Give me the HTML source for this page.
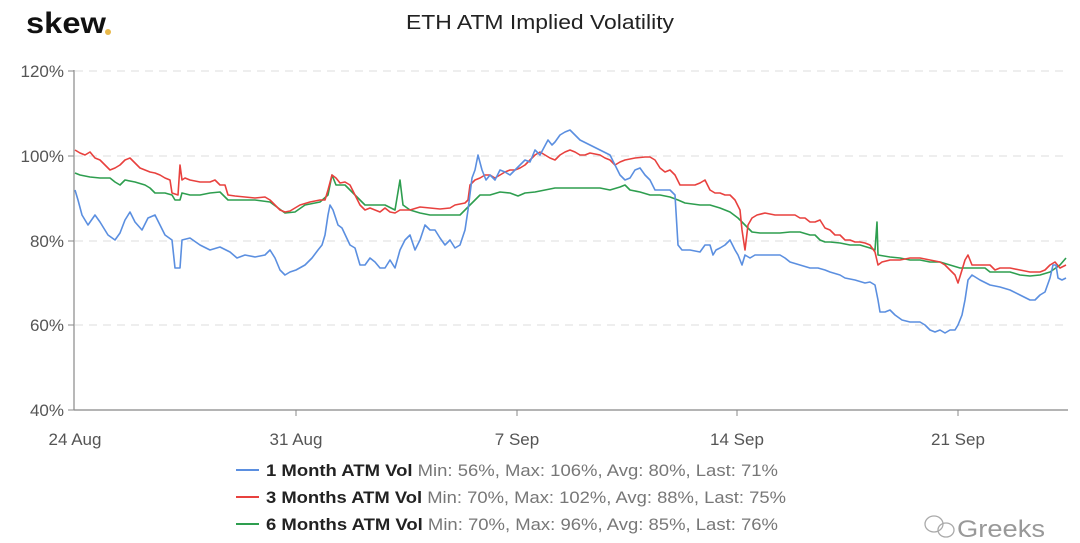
<!DOCTYPE html>
<html><head><meta charset="utf-8"><style>
body{margin:0;background:#fff;}
svg{display:block;font-family:"Liberation Sans",sans-serif;}
</style></head><body>
<svg width="1080" height="543" viewBox="0 0 1080 543">
<text x="26" y="33" font-size="30" font-weight="bold" fill="#111" textLength="80" lengthAdjust="spacingAndGlyphs">skew</text>
<circle cx="108" cy="32" r="3" fill="#e8b84a"/>
<text x="540" y="29" font-size="20" fill="#222" text-anchor="middle" textLength="268" lengthAdjust="spacingAndGlyphs">ETH ATM Implied Volatility</text>
<g stroke="#ddd" stroke-dasharray="8,6" stroke-width="1">
<line x1="75" y1="71" x2="1068" y2="71"/><line x1="75" y1="156" x2="1068" y2="156"/>
<line x1="75" y1="241" x2="1068" y2="241"/><line x1="75" y1="325" x2="1068" y2="325"/>
</g>
<line x1="74" y1="70" x2="74" y2="410" stroke="#888" stroke-width="1.2"/>
<line x1="74" y1="410" x2="1068" y2="410" stroke="#888" stroke-width="1.2"/>
<g stroke="#888"><line x1="68" y1="71" x2="74" y2="71"/><line x1="68" y1="156" x2="74" y2="156"/><line x1="68" y1="241" x2="74" y2="241"/><line x1="68" y1="325" x2="74" y2="325"/><line x1="68" y1="410" x2="74" y2="410"/>
<line x1="296" y1="410" x2="296" y2="416"/><line x1="517" y1="410" x2="517" y2="416"/><line x1="737" y1="410" x2="737" y2="416"/><line x1="958" y1="410" x2="958" y2="416"/></g>
<g font-size="17" fill="#555" text-anchor="end">
<text x="64" y="77">120%</text><text x="64" y="162">100%</text><text x="64" y="247">80%</text><text x="64" y="331">60%</text><text x="64" y="416">40%</text>
</g>
<g font-size="17" fill="#555" text-anchor="middle">
<text x="75" y="445">24 Aug</text><text x="296" y="445">31 Aug</text><text x="517" y="445">7 Sep</text><text x="737" y="445">14 Sep</text><text x="958" y="445">21 Sep</text>
</g>
<g fill="none" stroke-width="1.6" stroke-linejoin="round">
<polyline stroke="#2e9e4f" points="75,173 80,175 90,177 100,178 110,178 115,182 120,185 125,180 135,182 145,185 150,188 155,193 165,193 172,195 175,200 180,200 182,193 190,195 200,195 210,193 220,192 228,200 240,200 255,200 270,202 285,213 295,212 305,205 320,202 328,195 332,175 336,185 345,185 355,195 365,205 375,205 385,205 395,210 400,180 403,205 410,210 420,213 430,215 440,215 450,215 460,215 465,210 470,205 475,200 480,195 490,195 500,192 510,193 518,196 525,193 535,192 545,190 555,188 565,188 575,188 585,188 600,188 610,190 620,187 625,185 630,190 640,192 650,195 660,195 670,197 678,200 685,203 700,205 710,205 720,208 730,212 738,218 745,225 752,232 760,233 770,233 780,233 790,232 800,232 810,235 815,235 820,240 825,242 830,242 840,243 850,245 860,245 870,248 875,250 877,222 878,255 890,257 900,258 910,260 920,260 930,262 940,262 950,265 960,268 965,268 975,268 985,268 990,272 1000,272 1010,272 1020,275 1030,276 1040,275 1050,272 1060,265 1066,258"/>
<polyline stroke="#e8413e" points="75,150 80,153 85,155 90,152 95,158 100,160 105,165 110,170 115,168 120,165 125,160 130,158 135,163 140,168 145,170 150,172 155,173 160,175 165,178 170,180 172,193 178,195 180,165 182,180 185,178 190,180 200,182 210,182 215,180 220,185 225,185 228,195 235,196 245,197 255,198 265,197 270,200 275,205 280,210 285,212 290,211 295,208 300,205 310,202 320,200 325,200 328,190 332,175 336,178 340,183 345,182 350,185 355,195 360,205 365,210 370,208 375,210 380,212 385,208 390,212 395,213 400,210 410,210 420,207 430,208 440,209 450,208 455,205 460,204 465,203 468,200 470,185 475,180 480,178 485,175 490,175 495,178 500,175 505,172 510,170 515,170 520,168 525,165 530,160 535,155 540,152 545,155 550,158 555,160 560,155 565,152 570,150 575,152 580,155 585,155 590,153 600,155 605,158 610,160 615,165 620,162 625,160 635,158 645,157 650,157 655,160 660,168 665,172 670,170 675,175 680,185 685,185 690,185 695,185 700,183 705,180 710,190 715,193 720,193 725,195 730,195 735,200 740,210 742,230 745,250 748,225 752,218 757,215 765,213 775,215 785,215 795,215 800,218 805,218 810,222 815,222 820,220 825,228 830,230 835,235 840,235 845,240 850,240 855,242 860,242 865,243 870,245 875,252 878,265 882,262 890,260 900,260 910,258 920,258 930,260 940,262 945,265 950,270 955,275 958,283 962,270 965,260 968,255 972,265 980,265 990,265 995,270 1000,268 1010,268 1020,270 1030,272 1040,272 1045,270 1050,265 1055,262 1060,268 1066,265"/>
<polyline stroke="#5b8fe0" points="75,190 78,200 82,215 88,225 95,215 100,222 108,235 115,240 120,233 125,220 130,212 135,222 142,230 148,218 155,215 160,225 165,235 172,240 175,268 180,268 182,240 190,238 200,245 210,250 220,247 230,252 237,258 245,255 255,257 265,255 270,250 275,258 280,270 285,275 290,272 296,270 305,265 312,258 318,250 322,245 325,235 328,215 330,205 333,210 338,225 342,228 350,245 355,248 360,265 365,265 370,258 375,262 380,268 385,268 390,260 395,268 400,250 405,240 410,235 415,250 420,240 425,225 430,230 435,230 440,238 445,245 450,240 455,248 460,245 465,230 468,210 472,178 475,170 478,155 482,170 486,180 490,175 495,180 500,170 505,172 510,175 515,170 520,165 525,160 530,162 535,150 540,155 548,140 552,145 555,142 560,135 565,132 570,130 575,135 580,140 590,145 600,150 610,155 615,165 620,175 625,180 630,178 635,170 640,168 645,175 650,180 655,190 660,190 665,190 670,190 675,195 678,245 682,250 690,250 700,252 705,245 710,245 713,255 716,250 720,248 725,245 730,240 735,250 738,255 742,265 745,255 750,258 755,255 770,255 780,255 785,258 790,262 800,265 810,268 818,268 825,270 830,272 840,275 845,278 855,280 865,283 870,282 875,285 878,300 880,312 885,312 890,310 895,315 902,320 910,322 920,322 925,325 930,330 935,332 940,330 945,333 950,330 955,330 958,325 962,315 965,300 968,280 972,275 980,280 990,285 1000,287 1010,290 1020,295 1030,300 1035,300 1040,295 1045,292 1050,278 1053,265 1056,265 1058,278 1062,280 1066,278"/>
</g>
<g stroke-width="2">
<line x1="236" y1="470" x2="259" y2="470" stroke="#5b8fe0"/>
<line x1="236" y1="497" x2="259" y2="497" stroke="#e8413e"/>
<line x1="236" y1="524" x2="259" y2="524" stroke="#2e9e4f"/>
</g>
<g font-size="17">
<text x="266" y="476" textLength="512" lengthAdjust="spacingAndGlyphs"><tspan font-weight="bold" fill="#222">1 Month ATM Vol</tspan><tspan fill="#777"> Min: 56%, Max: 106%, Avg: 80%, Last: 71%</tspan></text>
<text x="266" y="503" textLength="520" lengthAdjust="spacingAndGlyphs"><tspan font-weight="bold" fill="#222">3 Months ATM Vol</tspan><tspan fill="#777"> Min: 70%, Max: 102%, Avg: 88%, Last: 75%</tspan></text>
<text x="266" y="530" textLength="512" lengthAdjust="spacingAndGlyphs"><tspan font-weight="bold" fill="#222">6 Months ATM Vol</tspan><tspan fill="#777"> Min: 70%, Max: 96%, Avg: 85%, Last: 76%</tspan></text>
</g>
<g fill="none" stroke="#aaa" stroke-width="1.3"><ellipse cx="934" cy="524" rx="9" ry="8"/><ellipse cx="946" cy="530" rx="8" ry="7"/></g>
<text x="957" y="537" font-size="24" fill="#999" textLength="88" lengthAdjust="spacingAndGlyphs">Greeks</text>
</svg>
</body></html>
